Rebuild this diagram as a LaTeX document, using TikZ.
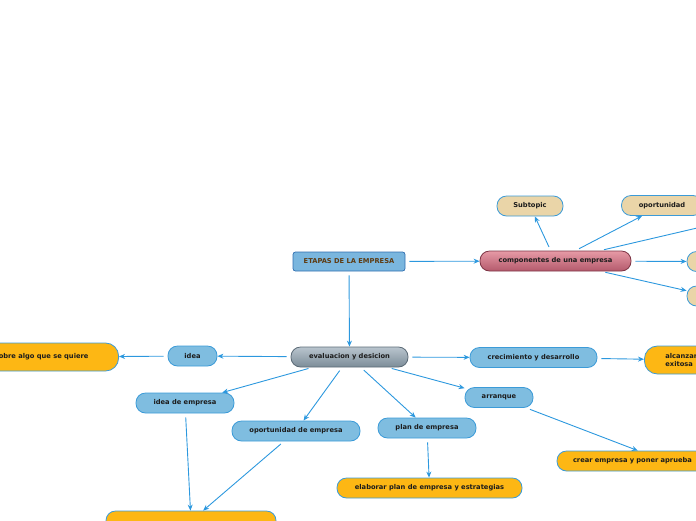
\documentclass[tikz,border=0pt]{standalone}
\usepackage{fontspec}
\setmainfont{DejaVu Sans}
\usetikzlibrary{positioning, arrows.meta}
\usepackage{xcolor}
\definecolor{mmline}{HTML}{2C98DE}
\definecolor{mmblue}{HTML}{7FBDE0}
\definecolor{mmborder}{HTML}{3C9BD8}
\definecolor{mmorange}{HTML}{FDB714}
\definecolor{mmbeige}{HTML}{EAD5A8}
\definecolor{mmroot}{HTML}{7AB6DE}
\definecolor{mmrootdark}{HTML}{2F6EB0}
\definecolor{mmbrown}{HTML}{5E3B12}
\definecolor{mmpinktop}{HTML}{E69AA6}
\definecolor{mmpinkbot}{HTML}{B45A6C}
\definecolor{mmpinkdark}{HTML}{7E3646}
\definecolor{mmgraytop}{HTML}{B9C5CE}
\definecolor{mmgraybot}{HTML}{7C8C98}
\definecolor{mmgraydark}{HTML}{5C6B77}
\definecolor{mmtext}{HTML}{1C1C1C}

\begin{document}
\begin{tikzpicture}[x=1pt, y=-1pt, font=\fontsize{6.7}{8}\selectfont\bfseries,
    topic/.style={draw=mmborder, line width=0.8pt, rounded corners=9.5pt,
      minimum height=20pt, inner sep=2pt, text=mmtext},
    bluebox/.style={topic, fill=mmblue},
    orangebox/.style={topic, fill=mmorange},
    beigebox/.style={topic, fill=mmbeige},
    link/.style={draw=mmline, line width=0.9pt, shorten <=4pt,
      -{Stealth[length=6pt, width=5pt]}}]
  \useasboundingbox (0,0) rectangle (696,520);
  \clip (0,0) rectangle (696,520);

  \node[draw=mmrootdark, fill=mmroot, line width=0.7pt, rounded corners=2.5pt,
    minimum width=112pt, minimum height=19pt, text=mmbrown] (etapas) at (349,261.5) {ETAPAS DE LA EMPRESA};
  \node[topic, draw=mmpinkdark, top color=mmpinktop, bottom color=mmpinkbot,
    minimum width=151pt] (componentes) at (555.5,261) {componentes de una empresa};
  \node[topic, draw=mmgraydark, top color=mmgraytop, bottom color=mmgraybot,
    minimum width=117pt] (evaluacion) at (349.5,357) {evaluacion y desicion};

  \node[beigebox, minimum width=66pt] (subtopic) at (530,206) {Subtopic};
  \node[beigebox, minimum width=81pt] (oportunidad) at (662,205.5) {oportunidad};
  \node[beigebox, minimum width=46pt] (compA) at (710,261.5) {};
  \node[beigebox, minimum width=46pt] (compB) at (710,296) {};
  \coordinate (compC) at (740,218);

  \node[bluebox, minimum width=49pt] (idea) at (192.5,356) {idea};
  \node[orangebox, minimum width=150pt, minimum height=28pt, rounded corners=13pt,
    anchor=east] (ideatxt) at (119,357) {obre algo que se quiere};
  \node[bluebox, minimum width=127pt] (crecimiento) at (533.5,357.5) {crecimiento y desarrollo};
  \node[orangebox, minimum height=28pt, rounded corners=13pt, anchor=west,
    align=left, inner xsep=21pt, text width=60pt] (alcanzar) at (644,360) {alcanzar\\exitosa};
  \node[bluebox, minimum width=68pt] (arranque) at (499,397.5) {arranque};
  \node[bluebox, minimum width=98pt] (ideaemp) at (185,403) {idea de empresa};
  \node[bluebox, minimum width=128pt] (oportemp) at (296,431) {oportunidad de empresa};
  \node[bluebox, minimum width=98pt] (plan) at (427,428) {plan de empresa};
  \node[orangebox, minimum width=185pt] (elaborar) at (429.5,488) {elaborar plan de empresa y estrategias};
  \node[orangebox, align=left, inner xsep=16pt, text width=184pt] (crear) at (665,461) {crear empresa y poner aprueba};
  \node[orangebox, minimum width=170pt] (desarrollo) at (191,521) {};

  \draw[link] (etapas) -- (componentes);
  \draw[link] (etapas) -- (evaluacion);
  \draw[link] (componentes) -- (subtopic);
  \draw[link] (componentes) -- (oportunidad);
  \draw[link] (componentes) -- (compC);
  \draw[link] (componentes) -- (compA);
  \draw[link] (componentes) -- (compB);
  \draw[link] (evaluacion) -- (idea);
  \draw[link] (idea) -- (ideatxt);
  \draw[link] (evaluacion) -- (crecimiento);
  \draw[link] (crecimiento) -- (alcanzar);
  \draw[link] (evaluacion) -- (arranque);
  \draw[link] (arranque) -- (crear);
  \draw[link] (evaluacion) -- (ideaemp);
  \draw[link] (evaluacion) -- (oportemp);
  \draw[link] (evaluacion) -- (plan);
  \draw[link] (plan) -- (elaborar);
  \draw[link] (ideaemp) -- (desarrollo);
  \draw[link] (oportemp) -- (desarrollo);
\end{tikzpicture}
\end{document}
